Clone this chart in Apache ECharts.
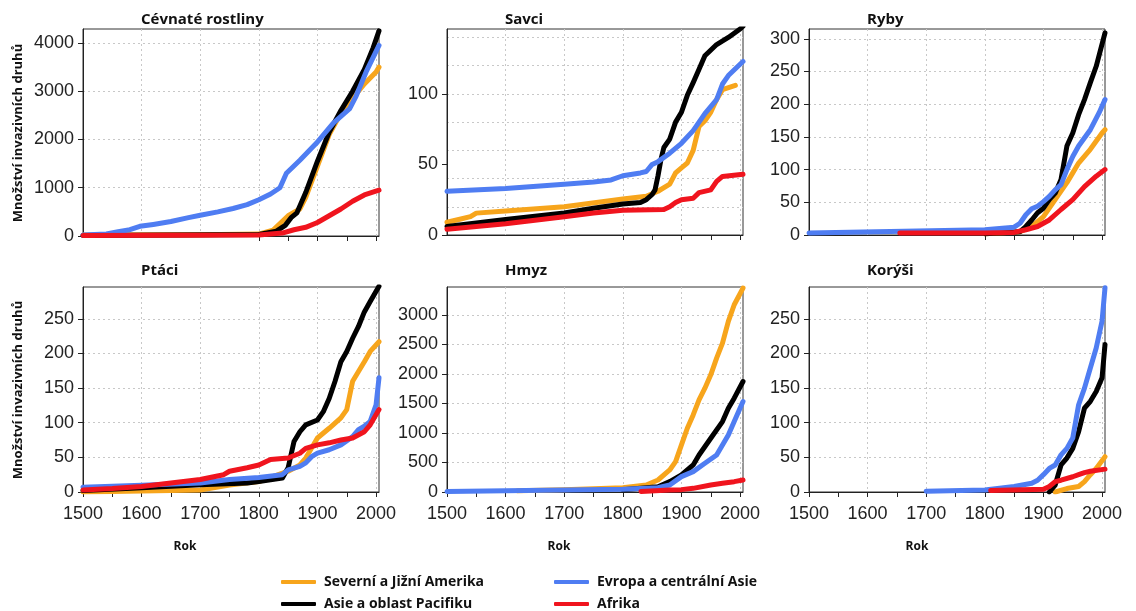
<!DOCTYPE html>
<html>
<head>
<meta charset="utf-8">
<script src="https://cdn.jsdelivr.net/npm/echarts/dist/echarts.min.js"></script>
<style>
  html, body { margin: 0; padding: 0; background: #fff; }
  #chart { width: 1136px; height: 611px; }
</style>
</head>
<body>
<div id="chart"></div>
<script>
// regions (legend order)
const regions = ['Severní a Jižní Amerika', 'Asie a oblast Pacifiku', 'Evropa a centrální Asie', 'Afrika']
const colors = ['#F7A51C', '#000000', '#4F7DF2', '#F0141E']

// [rok, počet druhů]
const plantsAmericas = [[1500,20],[1700,25],[1800,40],[1824,120],[1850,420],[1870,560],[1880,800],[1900,1450],[1920,2100],[1940,2550],[1960,2850],[1980,3150],[2000,3400],[2005,3500]]
const plantsAsia = [[1500,10],[1800,30],[1830,100],[1845,220],[1855,380],[1865,480],[1880,900],[1900,1550],[1920,2150],[1940,2600],[1960,3000],[1980,3450],[1995,3900],[2005,4250]]
const plantsEurope = [[1500,20],[1540,40],[1560,90],[1580,130],[1597,200],[1620,240],[1650,300],[1680,380],[1700,430],[1730,500],[1756,570],[1780,650],[1800,750],[1820,870],[1836,1000],[1847,1300],[1870,1570],[1898,1920],[1927,2340],[1955,2640],[1966,2900],[1983,3400],[2005,3950]]
const plantsAfrica = [[1500,10],[1800,20],[1840,60],[1860,130],[1880,180],[1900,280],[1920,420],[1940,560],[1960,720],[1980,850],[2005,950]]

const mammalsAmericas = [[1500,9],[1520,11],[1540,13],[1550,15.5],[1600,17],[1700,20],[1800,25.5],[1840,27.5],[1860,31],[1880,36],[1890,44],[1900,47.6],[1910,51],[1920,60],[1930,77],[1940,81],[1950,87],[1960,96],[1970,103],[1992,106]]
const mammalsAsia = [[1500,6],[1600,11],[1700,15.6],[1750,19],[1800,22],[1830,23],[1840,25],[1850,28.7],[1855,32],[1860,42],[1865,53.5],[1870,62],[1880,68],[1890,80],[1900,87],[1910,99],[1920,108],[1930,117.5],[1940,127],[1960,135],[1980,140],[2000,146],[2005,148]]
const mammalsEurope = [[1500,31],[1600,33],[1700,36],[1750,37.5],[1780,39],[1800,42],[1830,44],[1840,45],[1850,50],[1860,52],[1880,58],[1900,65],[1920,74],[1940,86],[1960,96],[1970,107],[1980,113],[2000,121],[2005,123]]
const mammalsAfrica = [[1500,4],[1600,8],[1700,13],[1750,15.6],[1800,17.5],[1870,18],[1880,20],[1890,23],[1900,25],[1920,26],[1930,30],[1950,32],[1960,38],[1970,41.5],[2005,43]]

const fishAmericas = [[1800,2],[1860,5],[1880,13],[1900,28],[1920,54],[1940,80],[1950,95],[1960,110],[1980,131],[2000,156],[2005,161]]
const fishAsia = [[1800,2],[1860,5],[1870,13],[1880,23],[1890,34],[1900,41],[1910,54],[1920,64],[1930,85],[1940,136],[1950,156],[1960,184],[1970,207],[1980,233],[1990,258],[2005,309]]
const fishEurope = [[1500,3],[1800,8],[1850,12],[1860,18],[1870,31],[1880,40],[1890,44],[1900,51],[1910,59],[1920,69],[1930,77],[1940,100],[1950,120],[1960,136],[1980,161],[1995,187],[2005,207]]
const fishAfrica = [[1655,3],[1800,3],[1850,4],[1870,8],[1890,13],[1910,23],[1930,39],[1950,54],[1960,64],[1970,74],[1990,90],[2005,100]]

const birdsAmericas = [[1500,0],[1700,3],[1750,10],[1800,15],[1850,30],[1870,39],[1880,49],[1900,78],[1920,92],[1940,107],[1950,119],[1960,160],[1970,174],[1980,188],[1990,203],[2005,217]]
const birdsAsia = [[1500,2],[1600,6],[1700,10.6],[1780,13],[1800,15],[1840,20],[1850,35],[1860,73],[1870,87],[1880,97],[1900,104],[1910,116],[1920,135],[1930,160],[1940,188],[1950,203],[1960,222],[1970,239],[1980,260],[1990,275],[2005,297]]
const birdsEurope = [[1500,7],[1600,9.6],[1700,13],[1750,18],[1800,21],[1840,25],[1850,32],[1870,37],[1880,42],[1890,51],[1900,56],[1920,61],[1940,68],[1960,80],[1970,90],[1980,95],[1990,102],[2000,126],[2005,165]]
const birdsAfrica = [[1500,3],[1550,5],[1600,8],[1650,13],[1700,18],[1740,25],[1750,30],[1780,35],[1800,39],[1820,47],[1850,49],[1870,56],[1880,63],[1900,68],[1920,71],[1940,75],[1960,78],[1980,87],[1990,97],[2005,119]]

const insectsAmericas = [[1620,20],[1700,40],[1800,73],[1840,119],[1860,203],[1880,373],[1890,514],[1900,797],[1910,1079],[1920,1305],[1930,1559],[1940,1757],[1950,1983],[1960,2266],[1970,2520],[1980,2887],[1990,3170],[2005,3452]]
const insectsAsia = [[1800,40],[1860,90],[1880,175],[1900,288],[1920,458],[1930,627],[1950,910],[1970,1192],[1980,1418],[1990,1588],[2005,1870]]
const insectsEurope = [[1500,10],[1800,45],[1860,73],[1880,119],[1900,260],[1920,345],[1940,486],[1960,627],[1980,966],[1990,1192],[2005,1531]]
const insectsAfrica = [[1831,10],[1880,34],[1900,40],[1920,62],[1950,119],[1970,147],[1990,175],[2005,203]]

const crustAmericas = [[1920,0],[1940,5],[1960,8],[1970,15],[1980,25],[1990,34],[2005,51]]
const crustAsia = [[1910,0],[1920,10],[1930,39],[1940,49],[1950,63],[1960,87],[1970,121],[1980,131],[1990,145],[2000,165],[2005,213]]
const crustEurope = [[1700,1],[1800,3],[1850,8],[1880,12.6],[1890,17],[1900,25],[1910,34],[1920,39],[1930,53.6],[1940,63],[1950,78],[1960,126],[1970,150],[1980,179],[1990,208],[2000,247],[2005,295]]
const crustAfrica = [[1810,2],[1900,4],[1910,8],[1920,15],[1930,17],[1950,22],[1960,25],[1970,28],[1980,30],[2005,33]]

// labelled y ticks per panel
const plantsTicks = [0, 1000, 2000, 3000, 4000]
const mammalsTicks = [0, 50, 100]
const fishTicks = [0, 50, 100, 150, 200, 250, 300]
const birdsTicks = [0, 50, 100, 150, 200, 250]
const insectsTicks = [0, 500, 1000, 1500, 2000, 2500, 3000]
const crustTicks = [0, 50, 100, 150, 200, 250]

const yearLabels = [1500, 1600, 1700, 1800, 1900, 2000]
const yearTicksAll = [1500, 1550, 1600, 1650, 1700, 1750, 1800, 1850, 1900, 1950, 2000]
const yearTicksLate = [1800, 1850, 1900, 1950, 2000]

const panels = [
  { title: 'Cévnaté rostliny', left: 83, top: 29, height: 207, titleTop: 12, ymax: 4290, step: 1000, ticks: plantsTicks,
    data: [plantsAmericas, plantsAsia, plantsEurope, plantsAfrica] },
  { title: 'Savci', left: 447, top: 29, height: 206, titleTop: 12, ymax: 146, step: 20, ticks: mammalsTicks,
    data: [mammalsAmericas, mammalsAsia, mammalsEurope, mammalsAfrica] },
  { title: 'Ryby', left: 809, top: 29, height: 206, titleTop: 12, ymax: 315, step: 50, ticks: fishTicks,
    data: [fishAmericas, fishAsia, fishEurope, fishAfrica] },
  { title: 'Ptáci', left: 83, top: 287, height: 205, titleTop: 263, ymax: 296, step: 50, ticks: birdsTicks,
    data: [birdsAmericas, birdsAsia, birdsEurope, birdsAfrica] },
  { title: 'Hmyz', left: 447, top: 287, height: 205, titleTop: 263, ymax: 3470, step: 500, ticks: insectsTicks,
    data: [insectsAmericas, insectsAsia, insectsEurope, insectsAfrica] },
  { title: 'Korýši', left: 809, top: 287, height: 205, titleTop: 263, ymax: 296, step: 50, ticks: crustTicks,
    data: [crustAmericas, crustAsia, crustEurope, crustAfrica] }
]

const axisFont = "'Liberation Sans', Arial, sans-serif"
const boldFont = "'Open Sans', sans-serif"
const gridLine = {
  show: true, showMinLine: false, showMaxLine: false,
  lineStyle: { color: '#c8c8c8', type: [2, 3], width: 1 }
}
const plain = (v) => String(v)

const chart = echarts.init(document.getElementById('chart'), null, { renderer: 'canvas' })

const grid = [], xAxis = [], yAxis = [], title = [], series = []
// axes 0-5 carry the dotted grid, axes 6-11 (same grids) carry ticks and labels
panels.forEach((p, i) => {
  grid.push({ left: p.left, top: p.top, width: 296, height: p.height, show: true, borderColor: '#333', borderWidth: 1 })
  title.push({
    text: p.title, left: p.left + 58, top: p.titleTop, padding: 0,
    textStyle: { fontFamily: boldFont, fontWeight: 'bold', fontSize: 15, color: '#111' }
  })
  xAxis.push({
    type: 'value', gridIndex: i, position: 'bottom', min: 1500, max: 2005, interval: 100,
    axisLine: { show: true, onZero: false, lineStyle: { color: '#222' } },
    axisTick: { show: false }, axisLabel: { show: false },
    splitLine: gridLine
  })
  yAxis.push({
    type: 'value', gridIndex: i, position: 'left', min: 0, max: p.ymax, interval: p.step,
    axisLine: { show: true, onZero: false, lineStyle: { color: '#222' } },
    axisTick: { show: false }, axisLabel: { show: false },
    splitLine: gridLine
  })
  p.data.forEach((d, k) => {
    series.push({
      name: regions[k], type: 'line', xAxisIndex: i, yAxisIndex: i, data: d,
      showSymbol: false, symbol: 'none', color: colors[k],
      lineStyle: { width: 5, color: colors[k], cap: 'round', join: 'round' }
    })
  })
})
panels.forEach((p, i) => {
  const bottomRow = i >= 3
  xAxis.push({
    type: 'value', gridIndex: i, position: 'bottom', min: 1500, max: 2005,
    axisLine: { show: false, onZero: false },
    axisTick: { show: true, length: 5, customValues: bottomRow ? yearTicksAll : yearTicksLate, lineStyle: { color: '#222' } },
    axisLabel: { show: bottomRow, customValues: yearLabels, formatter: plain, margin: 13, fontFamily: axisFont, fontSize: 18, color: '#222' },
    splitLine: { show: false }
  })
  yAxis.push({
    type: 'value', gridIndex: i, position: 'left', min: 0, max: p.ymax,
    axisLine: { show: false, onZero: false },
    axisTick: { show: true, length: 5, customValues: p.ticks, lineStyle: { color: '#222' } },
    axisLabel: { customValues: p.ticks, formatter: plain, margin: 9, fontFamily: axisFont, fontSize: 18, color: '#222' },
    splitLine: { show: false }
  })
})

const legendText = { fontFamily: boldFont, fontWeight: 'bold', fontSize: 14, color: '#111', padding: [0, 0, 0, 3] }
const legendCommon = {
  orient: 'vertical', icon: 'roundRect', itemWidth: 35, itemHeight: 4, itemGap: 8,
  padding: 0, textStyle: legendText, selectedMode: false
}

const yName = 'Množství invazivních druhů'
const nameStyle = { font: "bold 13px 'Open Sans'", fill: '#111', align: 'center', verticalAlign: 'middle' }
const rokStyle = { text: 'Rok', font: "bold 12px 'Open Sans'", fill: '#111', align: 'center', verticalAlign: 'middle' }

chart.setOption({
  animation: false,
  backgroundColor: '#fff',
  title,
  grid,
  xAxis,
  yAxis,
  legend: [
    Object.assign({ left: 281, top: 575, data: [regions[0], regions[1]] }, legendCommon),
    Object.assign({ left: 554, top: 575, data: [regions[2], regions[3]] }, legendCommon)
  ],
  graphic: [
    { type: 'text', x: 18, y: 133, rotation: Math.PI / 2, style: Object.assign({ text: yName }, nameStyle) },
    { type: 'text', x: 18, y: 390, rotation: Math.PI / 2, style: Object.assign({ text: yName }, nameStyle) },
    { type: 'text', x: 185, y: 547, style: rokStyle },
    { type: 'text', x: 559, y: 547, style: rokStyle },
    { type: 'text', x: 917, y: 547, style: rokStyle }
  ],
  series
})
</script>
</body>
</html>
